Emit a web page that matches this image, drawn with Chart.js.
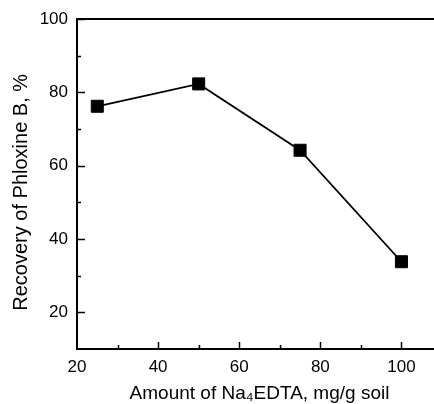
<!DOCTYPE html>
<html>
<head>
<meta charset="utf-8">
<script src="https://cdn.jsdelivr.net/npm/chart.js@4"></script>
<style>
  html, body { margin: 0; padding: 0; background: #fff; overflow: hidden; }
  #wrap { width: 460px; height: 404px; }
</style>
</head>
<body>
<div id="wrap"><canvas id="recoveryChart"></canvas></div>
<script>
const edtaAmount = [25, 50, 75, 100];      // mg/g soil
const recovery = [76.2, 82.3, 64.2, 33.8]; // %
const xTickLabels = [20, 40, 60, 80, 100];
const yTickLabels = [20, 40, 60, 80, 100];

const FONT = "'Liberation Sans', Arial, sans-serif";

// inward tick marks + top frame line
const frame = {
    id: 'frame',
    afterDraw(chart) {
        const ctx = chart.ctx;
        const { left, top, bottom } = chart.chartArea;
        const xs = chart.scales.x, ys = chart.scales.y;
        ctx.save();
        ctx.strokeStyle = '#000';
        ctx.lineWidth = 2;
        ctx.beginPath();
        ctx.moveTo(left - 1, top);
        ctx.lineTo(chart.width, top);
        ctx.stroke();

        ctx.lineWidth = 1.5;
        for (let v = 20; v <= 100; v += 10) {
            const y = Math.round(ys.getPixelForValue(v)) + 0.5;
            const len = v % 20 === 0 ? 8 : 4;
            ctx.beginPath();
            ctx.moveTo(left, y);
            ctx.lineTo(left + len, y);
            ctx.stroke();
        }
        for (let v = 30; v <= 110; v += 10) {
            const x = Math.round(xs.getPixelForValue(v)) + 0.5;
            const len = v % 20 === 0 ? 7 : 4;
            ctx.beginPath();
            ctx.moveTo(x, bottom);
            ctx.lineTo(x, bottom - len);
            ctx.stroke();
        }
        ctx.restore();
    }
};

new Chart(document.getElementById('recoveryChart'), {
    type: 'line',
    data: {
        datasets: [{
            data: edtaAmount.map((x, i) => ({ x: x, y: recovery[i] })),
            borderColor: '#000',
            borderWidth: 1.8,
            pointStyle: 'rect',
            pointRadius: 8.5,
            pointBackgroundColor: '#000',
            pointBorderColor: '#000',
            pointBorderWidth: 1,
            tension: 0
        }]
    },
    options: {
        responsive: true,
        maintainAspectRatio: false,
        animation: false,
        events: [],
        layout: { padding: { top: 19, right: 18, left: 0, bottom: 0 } },
        plugins: {
            legend: { display: false },
            tooltip: { enabled: false }
        },
        scales: {
            x: {
                type: 'linear',
                min: 20,
                max: 110,
                afterFit: s => { s.height = 55; },
                grid: { display: false },
                border: { display: true, color: '#000', width: 2 },
                ticks: {
                    stepSize: 10,
                    autoSkip: false,
                    maxRotation: 0,
                    padding: 0,
                    color: '#000',
                    font: { family: FONT, size: 17 },
                    callback: v => xTickLabels.includes(v) ? String(v) : ''
                },
                title: {
                    display: true,
                    text: 'Amount of Na\u2084EDTA, mg/g soil',
                    color: '#000',
                    font: { family: FONT, size: 19 },
                    padding: { top: 0, bottom: -1 }
                }
            },
            y: {
                min: 10,
                max: 100,
                afterFit: s => { s.width = 77; },
                grid: { display: false },
                border: { display: true, color: '#000', width: 2 },
                ticks: {
                    stepSize: 10,
                    autoSkip: false,
                    padding: 1,
                    color: '#000',
                    font: { family: FONT, size: 17 },
                    callback: v => yTickLabels.includes(v) ? String(v) : ''
                },
                title: {
                    display: true,
                    text: 'Recovery of Phloxine B, %   ',
                    color: '#000',
                    font: { family: FONT, size: 20 },
                    padding: { top: 9, bottom: 0 }
                }
            }
        }
    },
    plugins: [frame]
});
</script>
</body>
</html>
